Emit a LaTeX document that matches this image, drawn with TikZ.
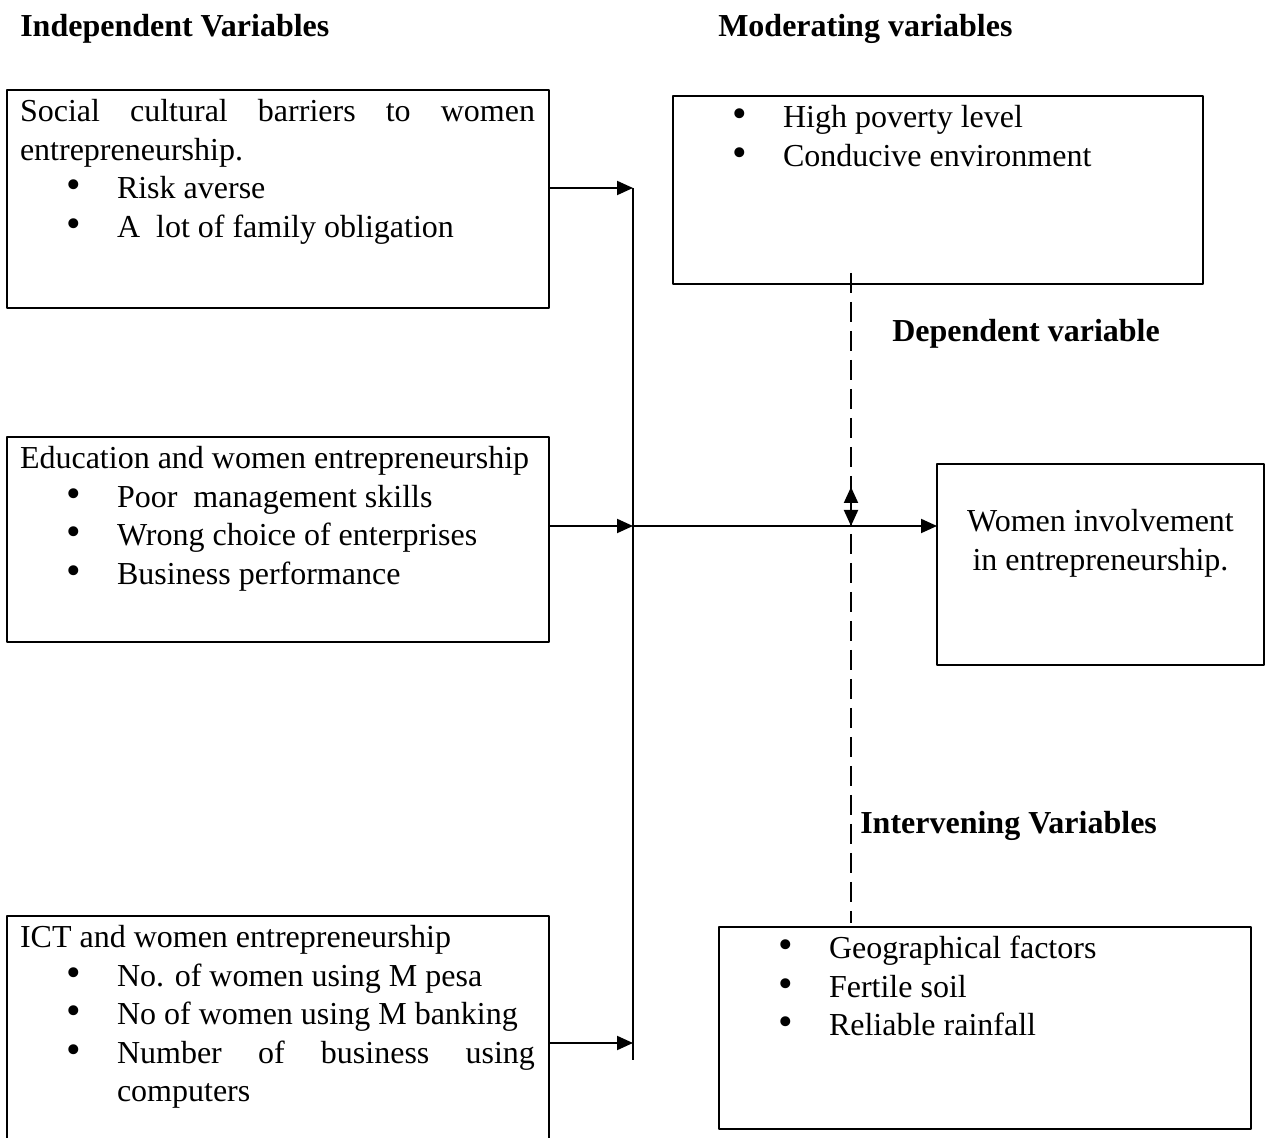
\documentclass[tikz,border=0pt]{standalone}
\usepackage{fontspec}
\setmainfont{Liberation Serif}
\usetikzlibrary{arrows.meta}
\hyphenpenalty=10000
\tolerance=10000
\newcommand{\bul}{\hangindent=72.75bp\hangafter=0\noindent\llap{\scalebox{1.3}{\textbullet}\hspace{26.8bp}}}
\newcommand{\itm}{\par\bul}
\begin{document}
\begin{tikzpicture}[>={Triangle[length=12bp,width=10.5bp]},line join=bevel,
  varbox/.style={draw,line width=2bp,inner sep=0pt,outer sep=0pt},
  boxtext/.style={anchor=north west,text width=386.25bp,align=justify,inner xsep=9.75bp,inner ysep=7bp,outer sep=0pt,
    font=\fontsize{24bp}{28.875bp}\selectfont},
  wtext/.style={anchor=north,align=center,inner sep=0pt,font=\fontsize{24bp}{28.875bp}\selectfont},
  title/.style={anchor=base west,inner sep=0pt,font=\fontsize{24bp}{28.875bp}\selectfont\bfseries},
  link/.style={line width=1.5bp},
  dashlink/.style={line width=2bp,dash pattern=on 15bp off 6.75bp}]
%%
\useasboundingbox (0bp,0bp) rectangle (952.5bp,853.5bp);
\node (indep-lbl) at (15bp,825.75bp) [title] {Independent Variables};
  \node (moder-lbl) at (538.5bp,825.75bp) [title] {Moderating variables};
  \node (dep-lbl) at (669bp,597bp) [title] {Dependent variable};
  \node (inter-lbl) at (645bp,228bp) [title] {Intervening Variables};
  \node (social) at (208.5bp,704.25bp) [varbox,minimum width=406.5bp,minimum height=163.5bp] {};
  \node (edu) at (208.5bp,448.875bp) [varbox,minimum width=406.5bp,minimum height=153.75bp] {};
  \node (ict) at (208.5bp,78.75bp) [varbox,minimum width=406.5bp,minimum height=175.5bp] {};
  \node (moderating) at (703.5bp,711bp) [varbox,minimum width=397.5bp,minimum height=141bp] {};
  \node (women) at (825.375bp,430.125bp) [varbox,minimum width=245.25bp,minimum height=150.75bp] {};
  \node (intervening) at (738.75bp,82.5bp) [varbox,minimum width=399bp,minimum height=151.5bp] {};
  \node (social-txt) at (social.north west) [boxtext] {\noindent Social cultural barriers to women entrepreneurship.\itm Risk averse\itm A\ \ lot of family obligation\par};
  \node (edu-txt) at (edu.north west) [boxtext] {\noindent Education and women entrepreneurship\itm Poor\ \ management skills\itm Wrong choice of enterprises\itm Business performance\par};
  \node (ict-txt) at (ict.north west) [boxtext] {\noindent ICT and women entrepreneurship\itm No. of women using M pesa\itm No of women using M banking\itm Number of business using computers\par};
  \node (moderating-txt) at (moderating.north west) [boxtext] {\bul High poverty level\itm Conducive environment\par};
  \node (intervening-txt) at (intervening.north west) [boxtext] {\bul Geographical factors\itm Fertile soil\itm Reliable rainfall\par};
  \node (women-txt) at ([yshift=-34bp]women.north) [wtext] {Women involvement\\in entrepreneurship.};
  \coordinate (social-in) at (474.75bp,712.5bp);
  \coordinate (hub) at (474.75bp,459bp);
  \coordinate (ict-in) at (474.75bp,71.25bp);
  \coordinate (spine-end) at (474.75bp,58.5bp);
  \coordinate (cross) at (638.25bp,459bp);
  \draw [link] (social-in) -- (spine-end);
  \draw [link,->] (social.east |- social-in) -- (social-in);
  \draw [link,->] (edu.east |- hub) -- (hub);
  \draw [link,->] (ict.east |- ict-in) -- (ict-in);
  \draw [link,->] (hub) -- (hub -| women.west);
  \draw [dashlink] ([yshift=8.25bp]moderating.south -| cross) -- ([yshift=3bp]intervening.north -| cross);
  \draw [link,<->] (cross) -- ([yshift=29.25bp]cross);
%
\end{tikzpicture}
\end{document}
